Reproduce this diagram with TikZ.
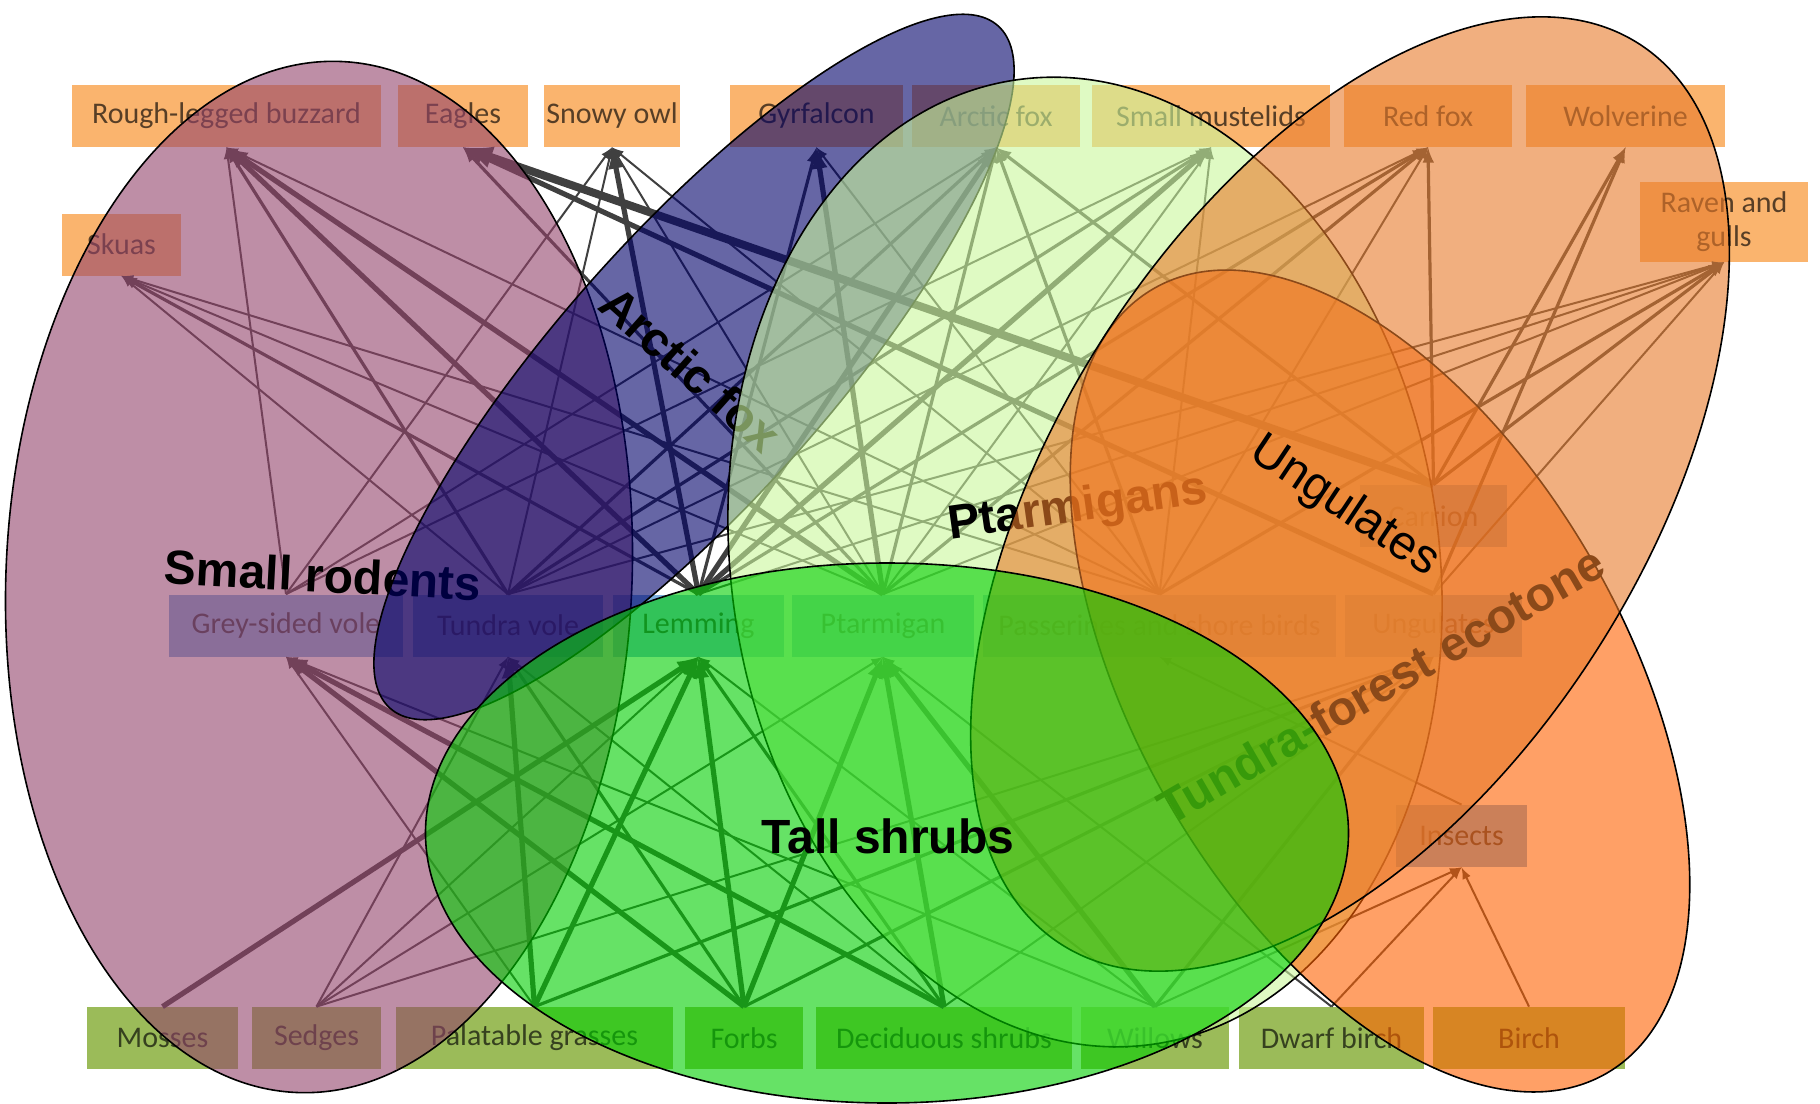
\documentclass[tikz,border=0pt]{standalone}
\usepackage{fontspec}
\setmainfont{Liberation Sans}
\newfontfamily\boxfont{Carlito}
\usetikzlibrary{shapes.geometric,arrows}

\definecolor{predbox}{HTML}{FAB46E}
\definecolor{herbbox}{HTML}{7DB0E0}
\definecolor{plantbox}{HTML}{9BBB59}
\definecolor{rodentfill}{HTML}{94436B}
\definecolor{foxfill}{HTML}{000069}
\definecolor{ptarmfill}{HTML}{CAF79B}
\definecolor{ecofill}{HTML}{FF6100}
\definecolor{ungfill}{HTML}{E87B2B}
\definecolor{shrubfill}{HTML}{00D000}

\tikzset{
  species/.style={fill=#1, text opacity=0.65, inner sep=0pt, align=center,
    minimum height=31pt, font=\boxfont\fontsize{15}{17}\selectfont},
  link/.style={-latex, draw=black!75, line width=#1},
  link/.default=1pt,
  cluster/.style={ellipse, draw=black, line width=0.8pt, fill=#1,
    fill opacity=0.6, inner sep=0pt, outer sep=0pt},
  clusterlabel/.style={inner sep=0pt, font=\bfseries\fontsize{24}{28}\selectfont},
}

\begin{document}
\begin{tikzpicture}[x=0.5pt, y=-0.5pt]
            \useasboundingbox (0,0) rectangle (1820,1103);
            \fill[white] (0,0) rectangle (1820,1103);

            % predators
            \node[species=predbox, minimum width=154.5pt] (buzzard) at (226.5,116) {Rough-legged buzzard};
            \node[species=predbox, minimum width=65pt] (eagles) at (463,116) {Eagles};
            \node[species=predbox, minimum width=68pt] (owl) at (612,116) {Snowy owl};
            \node[species=predbox, minimum width=86.5pt] (gyrfalcon) at (816.5,116) {Gyrfalcon};
            \node[species=predbox, minimum width=84pt] (arcticfox) at (996,116) {Arctic fox};
            \node[species=predbox, minimum width=119pt] (mustelids) at (1211,116) {Small mustelids};
            \node[species=predbox, minimum width=84pt] (redfox) at (1428,116) {Red fox};
            \node[species=predbox, minimum width=99.5pt] (wolverine) at (1625.5,116) {Wolverine};
            \node[species=predbox, minimum width=59.5pt] (skuas) at (121.5,244.5) {Skuas};
            \node[species=predbox, minimum width=84pt, minimum height=40pt] (raven) at (1724,222) {Raven and\\gulls};

            % herbivores
            \node[species=herbbox, minimum width=117pt] (greyvole) at (286,625.5) {Grey-sided vole};
            \node[species=herbbox, minimum width=95pt] (tundravole) at (508,625.5) {Tundra vole};
            \node[species=herbbox, minimum width=85.5pt] (lemming) at (698.5,625.5) {Lemming};
            \node[species=herbbox, minimum width=91pt] (ptarmigan) at (883,625.5) {Ptarmigan};
            \node[species=herbbox, minimum width=176.5pt] (passerines) at (1159.5,625.5) {Passerines and shore birds};
            \node[species=herbbox, minimum width=88.5pt] (ungulates) at (1433.5,625.5) {Ungulates};
            \node[species=herbbox, minimum width=73.5pt] (carrion) at (1433.5,516) {Carrion};
            \node[species=herbbox, minimum width=65.5pt] (insects) at (1461.5,836) {Insects};

            % plants
            \node[species=plantbox, minimum width=75.5pt] (mosses) at (162.5,1038) {Mosses};
            \node[species=plantbox, minimum width=64.5pt] (sedges) at (316.5,1038) {Sedges};
            \node[species=plantbox, minimum width=138.5pt] (grasses) at (534.5,1038) {Palatable grasses};
            \node[species=plantbox, minimum width=59pt] (forbs) at (744,1038) {Forbs};
            \node[species=plantbox, minimum width=128pt] (deciduous) at (944,1038) {Deciduous shrubs};
            \node[species=plantbox, minimum width=74pt] (willows) at (1155,1038) {Willows};
            \node[species=plantbox, minimum width=92.5pt] (dwarfbirch) at (1331.5,1038) {Dwarf birch};
            \node[species=plantbox, minimum width=96pt] (birch) at (1529,1038) {Birch};

            % plants to herbivores
            \draw[link=2.6pt] (mosses.north) -- (lemming.south);
            \draw[link] (sedges.north) -- (tundravole.south);
            \draw[link] (sedges.north) -- (lemming.south);
            \draw[link] (sedges.north) -- (ptarmigan.south);
            \draw[link] (sedges.north) -- (ungulates.south);
            \draw[link] (grasses.north) -- (greyvole.south);
            \draw[link=2.6pt] (grasses.north) -- (tundravole.south);
            \draw[link=2.6pt] (grasses.north) -- (lemming.south);
            \draw[link=1.6pt] (grasses.north) -- (ungulates.south);
            \draw[link=2.6pt] (forbs.north) -- (greyvole.south);
            \draw[link=1.6pt] (forbs.north) -- (tundravole.south);
            \draw[link=2.6pt] (forbs.north) -- (lemming.south);
            \draw[link=2.6pt] (forbs.north) -- (ptarmigan.south);
            \draw[link=1.6pt] (forbs.north) -- (ungulates.south);
            \draw[link=2.6pt] (deciduous.north) -- (greyvole.south);
            \draw[link] (deciduous.north) -- (tundravole.south);
            \draw[link=1.6pt] (deciduous.north) -- (lemming.south);
            \draw[link=2.6pt] (deciduous.north) -- (ptarmigan.south);
            \draw[link] (deciduous.north) -- (ungulates.south);
            \draw[link] (willows.north) -- (greyvole.south);
            \draw[link] (willows.north) -- (lemming.south);
            \draw[link=2.6pt] (willows.north) -- (ptarmigan.south);
            \draw[link=1.6pt] (willows.north) -- (ungulates.south);
            \draw[link] (willows.north) -- (insects.south);
            \draw[link] (dwarfbirch.north) -- (ptarmigan.south);
            \draw[link] (dwarfbirch.north) -- (insects.south);
            \draw[link] (birch.north) -- (insects.south);

            % herbivores to predators
            \draw[link] (greyvole.north) -- (buzzard.south);
            \draw[link=1.6pt] (tundravole.north) -- (buzzard.south);
            \draw[link=2.6pt] (lemming.north) -- (buzzard.south);
            \draw[link=2.6pt] (ptarmigan.north) -- (buzzard.south);
            \draw[link] (passerines.north) -- (buzzard.south);
            \draw[link] (tundravole.north) -- (skuas.south);
            \draw[link=1.6pt] (lemming.north) -- (skuas.south);
            \draw[link] (ptarmigan.north) -- (skuas.south);
            \draw[link] (passerines.north) -- (skuas.south);
            \draw[link=4pt] (carrion.north) -- (eagles.south);
            \draw[link=2.6pt] (ungulates.north) -- (eagles.south);
            \draw[link=1.6pt] (ptarmigan.north) -- (eagles.south);
            \draw[link] (greyvole.north) -- (owl.south);
            \draw[link] (tundravole.north) -- (owl.south);
            \draw[link=2.6pt] (lemming.north) -- (owl.south);
            \draw[link] (ptarmigan.north) -- (owl.south);
            \draw[link] (passerines.north) -- (owl.south);
            \draw[link=1.6pt] (lemming.north) -- (gyrfalcon.south);
            \draw[link=2.6pt] (ptarmigan.north) -- (gyrfalcon.south);
            \draw[link] (passerines.north) -- (gyrfalcon.south);
            \draw[link] (greyvole.north) -- (arcticfox.south);
            \draw[link=1.6pt] (tundravole.north) -- (arcticfox.south);
            \draw[link=2.6pt] (lemming.north) -- (arcticfox.south);
            \draw[link=1.6pt] (ptarmigan.north) -- (arcticfox.south);
            \draw[link=1.6pt] (passerines.north) -- (arcticfox.south);
            \draw[link=1.6pt] (carrion.north) -- (arcticfox.south);
            \draw[link] (greyvole.north) -- (mustelids.south);
            \draw[link=1.6pt] (tundravole.north) -- (mustelids.south);
            \draw[link=2.6pt] (lemming.north) -- (mustelids.south);
            \draw[link] (ptarmigan.north) -- (mustelids.south);
            \draw[link] (passerines.north) -- (mustelids.south);
            \draw[link] (tundravole.north) -- (redfox.south);
            \draw[link=1.6pt] (lemming.north) -- (redfox.south);
            \draw[link=1.6pt] (ptarmigan.north) -- (redfox.south);
            \draw[link] (passerines.north) -- (redfox.south);
            \draw[link=1.6pt] (carrion.north) -- (redfox.south);
            \draw[link=1.6pt] (carrion.north) -- (wolverine.south);
            \draw[link=1.6pt] (ungulates.north) -- (wolverine.south);
            \draw[link] (tundravole.north) -- (raven.south);
            \draw[link] (lemming.north) -- (raven.south);
            \draw[link] (ptarmigan.north) -- (raven.south);
            \draw[link=1.6pt] (passerines.north) -- (raven.south);
            \draw[link=1.6pt] (carrion.north) -- (raven.south);
            \draw[link] (ungulates.north) -- (raven.south);
            \draw[link] (insects.north) -- (passerines.south);

            % overlapping groups
            \node[cluster=rodentfill, minimum width=313pt, minimum height=516pt, rotate=-2.5] (rodents) at (319,577) {};
            \node[clusterlabel, rotate=-3] at (323,575) {Small rodents};
            \node[cluster=foxfill, minimum width=134pt, minimum height=457pt, rotate=-41.7] (foxgroup) at (694,367) {};
            \node[clusterlabel, rotate=-41.7] at (691,369) {Arctic fox};
            \node[cluster=ptarmfill, minimum width=354pt, minimum height=487pt, rotate=8] (ptarmgroup) at (1085,562) {};
            \node[clusterlabel, rotate=8] at (1078,509) {Ptarmigans};
            \node[cluster=ecofill, minimum width=244pt, minimum height=453pt, rotate=30] (ecotone) at (1380,681) {};
            \node[clusterlabel, rotate=30] at (1381,685) {Tundra-forest ecotone};
            \node[cluster=ungfill, minimum width=292pt, minimum height=535pt, rotate=-32.7] (unggroup) at (1350,494) {};
            \node[clusterlabel, font=\fontsize{24}{28}\selectfont, rotate=-33.7] at (1344,507) {Ungulates};
            \node[cluster=shrubfill, minimum width=461.5pt, minimum height=270pt] (shrubs) at (887,833) {};
            \node[clusterlabel] at (888,836) {Tall shrubs};
        \end{tikzpicture}
\end{document}
